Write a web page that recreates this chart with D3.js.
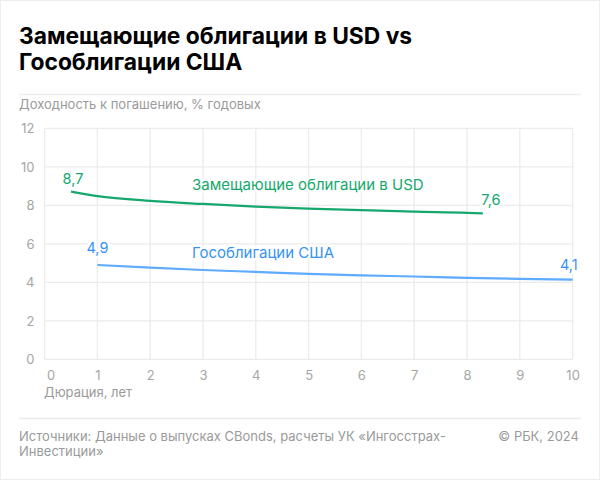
<!DOCTYPE html>
<html><head><meta charset="utf-8">
<script src="https://cdn.jsdelivr.net/npm/d3@7"></script>
<style>
html,body{margin:0;padding:0;background:#fff;}
svg{display:block;font-family:Inter,"Noto Sans",sans-serif;}
</style></head>
<body>
<svg id="c" width="600" height="480"></svg>
<script>
const greenDur = [0.5, 1, 2, 3, 4, 5, 6, 7, 8, 8.3];
const greenYield = [8.71, 8.48, 8.23, 8.07, 7.93, 7.83, 7.75, 7.67, 7.61, 7.58];
const blueDur = [1, 2, 3, 4, 5, 6, 7, 8, 9, 10];
const blueYield = [4.9, 4.76, 4.64, 4.54, 4.44, 4.36, 4.3, 4.23, 4.18, 4.14];
const xTicks = [0,1,2,3,4,5,6,7,8,9,10];
const yTicks = [0,2,4,6,8,10,12];
const greenName = "Замещающие облигации в USD";
const blueName = "Гособлигации США";
const greenEnds = ["8,7", "7,6"];
const blueEnds = ["4,9", "4,1"];

const svg = d3.select("#c");
const green = "#14a86c", blue = "#5eabff", blueText = "#3593f5";
const grid = "#ebebeb", tickCol = "#a6a6a6";

svg.append("rect").attr("x",0.5).attr("y",0.5).attr("width",599).attr("height",479)
  .attr("fill","#fff").attr("stroke","#eeeeee");

// title
const title = svg.append("text").attr("x",19).attr("font-weight",700).attr("font-size",22.8).attr("fill","#000");
title.append("tspan").attr("x",19).attr("y",44).text("Замещающие облигации в USD vs");
title.append("tspan").attr("x",19).attr("y",70).text("Гособлигации США");

svg.append("line").attr("x1",19).attr("x2",581).attr("y1",94.5).attr("y2",94.5).attr("stroke","#ececec").attr("stroke-width",1.5);
svg.append("text").attr("x",19).attr("y",109).attr("font-size",13).attr("fill","#9a9a9a").text("Доходность к погашению, % годовых");

const x = d3.scaleLinear().domain([0,10]).range([44.6,572.6]);
const y = d3.scaleLinear().domain([0,12]).range([359.3,128.3]);

const g = svg.append("g");
g.selectAll(".vg").data(xTicks).join("line").attr("x1",d=>x(d)).attr("x2",d=>x(d))
  .attr("y1",y(12)).attr("y2",y(0)).attr("stroke",grid).attr("stroke-width",1.3);
g.selectAll(".hg").data(yTicks).join("line").attr("x1",x(0)).attr("x2",x(10))
  .attr("y1",d=>y(d)).attr("y2",d=>y(d)).attr("stroke",grid).attr("stroke-width",1.3);

// axes labels via d3 axis
const xAxis = d3.axisBottom(x).tickValues(xTicks).tickSize(0).tickPadding(0).tickFormat(d=>String(d));
const xg = svg.append("g").attr("transform",`translate(0,${y(0)+21})`).call(xAxis);
xg.select(".domain").remove();
xg.selectAll("text").attr("font-family","Inter,sans-serif").attr("font-size",13).attr("fill",tickCol).attr("dy",0)
  .attr("text-anchor",d=>d===0?"start":"middle").attr("dx",d=>d===0?2:0);

const yAxis = d3.axisLeft(y).tickValues(yTicks).tickSize(0).tickPadding(0).tickFormat(d=>String(d));
const yg = svg.append("g").attr("transform",`translate(34.5,0)`).call(yAxis);
yg.select(".domain").remove();
yg.selectAll("text").attr("font-family","Inter,sans-serif").attr("font-size",13).attr("fill",tickCol).attr("dy","0.35em");

svg.append("text").attr("x",44).attr("y",397).attr("font-size",13).attr("fill","#9a9a9a").text("Дюрация, лет");

// lines
const line = d3.line().x(d=>x(d[0])).y(d=>y(d[1])).curve(d3.curveMonotoneX);
const gData = greenDur.map((d,i)=>[d,greenYield[i]]);
const bData = blueDur.map((d,i)=>[d,blueYield[i]]);
svg.append("path").attr("d",line(gData)).attr("fill","none").attr("stroke",green).attr("stroke-width",2.2);
svg.append("path").attr("d",line(bData)).attr("fill","none").attr("stroke",blue).attr("stroke-width",2.2);

function lab(tx,ty,t,col,anchor,fs){
  svg.append("text").attr("x",tx).attr("y",ty).attr("font-size",fs||14.5).attr("fill",col)
    .attr("text-anchor",anchor||"middle").attr("stroke","#fff").attr("stroke-width",5)
    .attr("stroke-linejoin","round").attr("paint-order","stroke").text(t);
}
const gf = gData[0], gl = gData[gData.length-1];
const bf = bData[0], bl = bData[bData.length-1];
lab(x(gf[0])+2, y(gf[1])-8, greenEnds[0], green);
lab(x(gl[0])+8, y(gl[1])-8, greenEnds[1], green);
lab(x(bf[0]), y(bf[1])-12, blueEnds[0], blueText);
lab(x(bl[0])+5, y(bl[1])-10, blueEnds[1], blueText, "end");
lab(192, 190, greenName, green, "start", 15);
lab(192, 258, blueName, blueText, "start", 15);

// footer
svg.append("line").attr("x1",19).attr("x2",581).attr("y1",418.5).attr("y2",418.5).attr("stroke","#ececec").attr("stroke-width",1.5);
const src = svg.append("text").attr("font-size",13).attr("fill","#9a9a9a");
src.append("tspan").attr("x",19).attr("y",441).text("Источники: Данные о выпусках CBonds, расчеты УК «Ингосстрах-");
src.append("tspan").attr("x",19).attr("y",456).text("Инвестиции»");
svg.append("text").attr("x",579).attr("y",441).attr("text-anchor","end").attr("font-size",13).attr("fill","#9a9a9a").text("© РБК, 2024");
</script>
</body></html>
